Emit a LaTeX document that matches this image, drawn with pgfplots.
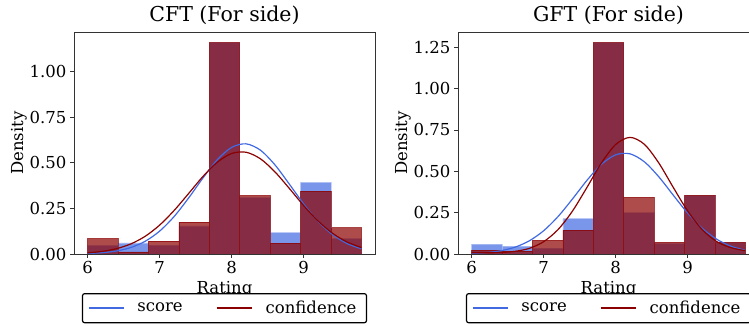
\documentclass[border=0pt]{standalone}
\usepackage{pgfplots}
\pgfplotsset{compat=1.18}
\usepackage{fontspec}
\setmainfont{DejaVu Serif}
\definecolor{scoreblue}{HTML}{4169E1}
\definecolor{confred}{HTML}{8B0000}
\newcommand{\tk}{\fontsize{16.5}{19}\selectfont}
\newcommand{\ttl}{\fontsize{20.5}{23}\selectfont}
\pgfplotsset{
  myax/.style={
    scale only axis, width=301pt, height=222pt,
    anchor=south west,
    xmin=5.81, xmax=9.99, ymin=0,
    xtick={6,7,8,9},
    axis line style={black!80, line width=0.8pt},
    tick style={black!80, line width=0.8pt},
    tick align=outside, major tick length=4pt,
    xtick pos=bottom, ytick pos=left,
    ticklabel style={font=\tk},
    /pgf/number format/assume math mode=true,
    yticklabel style={/pgf/number format/fixed, /pgf/number format/fixed zerofill, /pgf/number format/precision=2},
    xlabel={Rating}, ylabel={Density},
    label style={font=\tk},
    xlabel style={yshift=0pt},
    ylabel style={yshift=-4pt},
    title style={font=\ttl, yshift=-2pt},
    legend style={at={(0.5,-0.176)}, anchor=north, draw=black, line width=1.2pt,
      rounded corners=2pt, legend columns=2, font=\tk, inner xsep=5pt, inner ysep=5.5pt,
      /tikz/column 1/.style={column sep=8pt},
      /tikz/column 2/.style={column sep=28pt},
      /tikz/column 3/.style={column sep=8pt},
      nodes={inner xsep=5pt}},
    legend cell align=left,
  },
  sbar/.style={ybar interval, fill=scoreblue, fill opacity=0.7, draw=scoreblue!40!white, draw opacity=0.7, line width=0.6pt, forget plot},
  cbar/.style={ybar interval, fill=confred, fill opacity=0.7, draw=confred, draw opacity=0.7, line width=0.6pt, forget plot},
  sline/.style={scoreblue, line width=1.2pt, smooth, no marks,
    legend image code/.code={\draw[draw=scoreblue, line width=1.9pt] (0pt,0pt) -- (35pt,0pt);}},
  cline/.style={confred, line width=1.2pt, smooth, no marks,
    legend image code/.code={\draw[draw=confred, line width=1.9pt] (0pt,0pt) -- (35pt,0pt);}},
}
\begin{document}
\begin{tikzpicture}[x=1pt,y=1pt]
\path[use as bounding box] (0,0) rectangle (749,326);
% ---------- CFT ----------
\begin{axis}[myax, at={(74pt,72pt)}, ymax=1.218, ytick={0,0.25,0.5,0.75,1.0},
  title={CFT (For side)}]
\addplot[sbar] coordinates {(6,0.047) (6.4222,0.061) (6.8444,0.049) (7.2667,0.154) (7.6889,1.16) (8.1111,0.309) (8.5333,0.117) (8.9556,0.393) (9.3778,0.084) (9.8,0.084)};
\addplot[cbar] coordinates {(6,0.084) (6.4222,0.012) (6.8444,0.071) (7.2667,0.175) (7.6889,1.16) (8.1111,0.320) (8.5333,0.060) (8.9556,0.345) (9.3778,0.144) (9.8,0.144)};
\addplot[sline] coordinates {(6.0,0.0027) (6.2,0.0070) (6.4,0.0166) (6.6,0.0357) (6.8,0.0701) (7.0,0.1257) (7.2,0.2054) (7.4,0.3063) (7.6,0.4166) (7.8,0.5171) (8.0,0.5852) (8.2,0.6044) (8.4,0.5694) (8.6,0.4893) (8.8,0.3836) (9.0,0.2743) (9.2,0.1790) (9.4,0.1065) (9.6,0.0579) (9.8,0.0287)};
\addlegendentry{score}
\addplot[cline] coordinates {(6.0,0.0063) (6.2,0.0141) (6.4,0.0291) (6.6,0.0554) (6.8,0.0975) (7.0,0.1587) (7.2,0.2386) (7.4,0.3311) (7.6,0.4250) (7.8,0.5037) (8.0,0.5517) (8.2,0.5583) (8.4,0.5220) (8.6,0.4509) (8.8,0.3599) (9.0,0.2653) (9.2,0.1808) (9.4,0.1138) (9.6,0.0662) (9.8,0.0355)};
\addlegendentry{confidence}
\end{axis}
% ---------- GFT ----------
\begin{axis}[myax, at={(458pt,72pt)}, ymax=1.342, ytick={0,0.25,0.5,0.75,1.0,1.25},
  title={GFT (For side)}]
\addplot[sbar] coordinates {(6,0.060) (6.4222,0.048) (6.8444,0.036) (7.2667,0.214) (7.6889,1.278) (8.1111,0.250) (8.5333,0.062) (8.9556,0.354) (9.3778,0.070) (9.8,0.070)};
\addplot[cbar] coordinates {(6,0.024) (6.4222,0.018) (6.8444,0.082) (7.2667,0.144) (7.6889,1.278) (8.1111,0.342) (8.5333,0.070) (8.9556,0.354) (9.3778,0.070) (9.8,0.070)};
\addplot[sline] coordinates {(6.0,0.0032) (6.2,0.0082) (6.4,0.0192) (6.6,0.0410) (6.8,0.0796) (7.0,0.1407) (7.2,0.2267) (7.4,0.3328) (7.6,0.4448) (7.8,0.5412) (8.0,0.5998) (8.2,0.6054) (8.4,0.5566) (8.6,0.4659) (8.8,0.3552) (9.0,0.2467) (9.2,0.1561) (9.4,0.0899) (9.6,0.0471) (9.8,0.0225)};
\addlegendentry{score}
\addplot[cline] coordinates {(6.0,0.008) (6.2,0.008) (6.4,0.009) (6.6,0.016) (6.8,0.034) (7.0,0.0745) (7.2,0.1480) (7.4,0.2597) (7.6,0.4020) (7.8,0.5492) (8.0,0.6623) (8.2,0.705) (8.4,0.6623) (8.6,0.5492) (8.8,0.4020) (9.0,0.2597) (9.2,0.1480) (9.4,0.0760) (9.6,0.038) (9.8,0.020)};
\addlegendentry{confidence}
\end{axis}
\end{tikzpicture}
\end{document}
